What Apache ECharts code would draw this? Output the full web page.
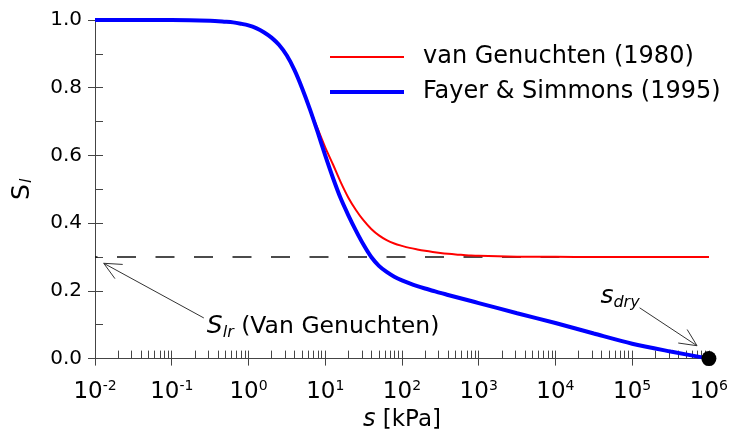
<!DOCTYPE html>
<html>
<head>
<meta charset="utf-8">
<script src="https://cdn.jsdelivr.net/npm/echarts@6/dist/echarts.min.js"></script>
<style>
html,body{margin:0;padding:0;background:#fff}
#chart{width:731px;height:437px}
</style>
</head>
<body>
<div id="chart"></div>
<script>
// suction s [kPa] and degree of saturation
var suction = [0.01, 0.0316, 0.1, 0.316, 0.501, 0.631, 0.794, 1,
    1.259, 1.585, 1.995, 2.512, 3.162, 3.981, 5.012, 6.31, 7.943, 10,
    12.59, 15.85, 19.95, 25.12, 31.62, 39.81, 50.12, 63.1, 79.43, 100,
    125.9, 158.5, 199.5, 251.2, 316.2, 398.1, 501.2, 631, 794.3, 1000,
    3162, 10000, 31623, 100000, 316228, 1000000];
var vanGenuchten = [1.0, 1.0, 1.0, 0.998, 0.995, 0.993, 0.989, 0.984,
    0.976, 0.964, 0.948, 0.926, 0.895, 0.852, 0.798, 0.737, 0.680, 0.624,
    0.574, 0.522, 0.476, 0.439, 0.408, 0.383, 0.364, 0.350, 0.340, 0.333,
    0.327, 0.3225, 0.3185, 0.315, 0.312, 0.3095, 0.3075, 0.306, 0.3045, 0.3035,
    0.301, 0.3005, 0.300, 0.300, 0.300, 0.300];
var fayerSimmons = [1.0, 1.0, 1.0, 0.998, 0.995, 0.993, 0.989, 0.984,
    0.976, 0.964, 0.948, 0.926, 0.895, 0.852, 0.798, 0.737, 0.670, 0.600,
    0.534, 0.474, 0.424, 0.378, 0.336, 0.300, 0.274, 0.256, 0.242, 0.231,
    0.222, 0.214, 0.207, 0.2005, 0.194, 0.188, 0.182, 0.176, 0.170, 0.164,
    0.134, 0.105, 0.074, 0.044, 0.021, 0.0];
var residual = 0.3;
var sDry = [1000000, 0];
var xMin = 0.01, xMax = 1000000;

var font = 'DejaVu Sans';
var axisColor = '#444';

// minor ticks 1..9 x 10^n
var minorTicks = [];
for (var e = -2; e < 6; e++) {
    for (var k = 1; k < 10; k++) minorTicks.push(k * Math.pow(10, e));
}
minorTicks.push(xMax);

function pairs(xs, ys) {
    return xs.map(function (x, i) { return [x, ys[i]]; });
}

var chart = echarts.init(document.getElementById('chart'));

var option = {
    backgroundColor: '#fff',
    animation: false,
    textStyle: {fontFamily: font},
    grid: {left: 95, right: 16, top: 20, bottom: 76, containLabel: false},
    legend: {
        left: 328,
        top: 45,
        padding: 0,
        orient: 'vertical',
        itemWidth: 74,
        itemHeight: 20,
        itemGap: 11,
        itemStyle: {opacity: 0},
        lineStyle: {width: 'inherit'},
        data: ['van Genuchten (1980)', 'Fayer & Simmons (1995)'],
        textStyle: {fontFamily: font, fontSize: 24, color: '#000', padding: [0, 0, 0, 14]}
    },
    xAxis: [{
        type: 'log',
        logBase: 10,
        min: xMin,
        max: xMax,
        interval: 1,
        name: '{i|s} [kPa]',
        nameLocation: 'middle',
        nameGap: 49,
        nameTextStyle: {
            fontFamily: font, fontSize: 23, color: '#000',
            rich: {i: {fontFamily: font, fontSize: 24, fontStyle: 'italic', color: '#000'}}
        },
        axisLine: {lineStyle: {color: axisColor, width: 1}},
        axisTick: {length: 7, lineStyle: {color: axisColor}},
        splitLine: {show: false},
        axisLabel: {
            margin: 21,
            formatter: function (v) {
                var n = Math.round(Math.log(v) / Math.LN10);
                return '{b|10}{sup|' + n + '}';
            },
            rich: {
                b: {fontFamily: font, fontSize: 23, color: '#000'},
                sup: {fontFamily: font, fontSize: 14, color: '#000', padding: [0, 0, 10, 0]}
            }
        }
    }, {
        type: 'log',
        logBase: 10,
        min: xMin,
        max: xMax,
        interval: 1,
        position: 'bottom',
        axisLine: {show: false},
        axisLabel: {show: false},
        splitLine: {show: false},
        axisTick: {inside: true, length: 8, customValues: minorTicks, lineStyle: {color: axisColor}}
    }],
    yAxis: [{
        type: 'value',
        min: 0,
        max: 1,
        interval: 0.2,
        name: '{i|S}{sub|l}',
        nameLocation: 'middle',
        nameGap: 60,
        nameRotate: 90,
        nameTextStyle: {
            rich: {
                i: {fontFamily: font, fontSize: 25, color: '#000'},
                sub: {fontFamily: font, fontSize: 16, fontStyle: 'italic', color: '#000', padding: [10, 0, 0, 1]}
            }
        },
        axisLine: {show: true, lineStyle: {color: axisColor, width: 1}},
        axisTick: {show: true, length: 7, lineStyle: {color: axisColor}},
        splitLine: {show: false},
        axisLabel: {
            margin: 13,
            fontFamily: font, fontSize: 20, color: '#000',
            formatter: function (v) { return v.toFixed(1); }
        }
    }, {
        type: 'value',
        min: 0,
        max: 1,
        interval: 0.1,
        position: 'left',
        axisLine: {show: false},
        axisLabel: {show: false},
        splitLine: {show: false},
        axisTick: {show: true, inside: true, length: 8, lineStyle: {color: axisColor}}
    }],
    series: [{
        name: 'Slr',
        type: 'line',
        data: [[xMin, residual], [xMax, residual]],
        symbol: 'none',
        lineStyle: {color: '#111', width: 1.5, type: [19, 19.5], dashOffset: 16.5},
        silent: true,
        z: 1
    }, {
        name: 'van Genuchten (1980)',
        type: 'line',
        data: pairs(suction, vanGenuchten),
        symbol: 'none',
        smooth: 0.3,
        lineStyle: {color: '#ff0000', width: 2},
        itemStyle: {color: '#ff0000'},
        z: 2
    }, {
        name: 'Fayer & Simmons (1995)',
        type: 'line',
        data: pairs(suction, fayerSimmons),
        symbol: 'none',
        smooth: 0.3,
        lineStyle: {color: '#0000ff', width: 4},
        itemStyle: {color: '#0000ff'},
        z: 3
    }, {
        name: 'sdry',
        type: 'scatter',
        data: [sDry],
        symbolSize: 15,
        clip: false,
        itemStyle: {color: '#000', opacity: 1},
        z: 4
    }]
};

chart.setOption(option);

function px(p) {
    return chart.convertToPixel({seriesIndex: 2}, p);
}

function arrow(tail, tip) {
    var a = px(tail), b = px(tip);
    var ang = Math.atan2(b[1] - a[1], b[0] - a[0]);
    var L = 19, w = 0.44;
    var h1 = [b[0] - L * Math.cos(ang - w), b[1] - L * Math.sin(ang - w)];
    var h2 = [b[0] - L * Math.cos(ang + w), b[1] - L * Math.sin(ang + w)];
    return [
        {type: 'line', shape: {x1: a[0], y1: a[1], x2: b[0], y2: b[1]}, style: {stroke: '#333', lineWidth: 1}, z: 10},
        {type: 'polyline', shape: {points: [h1, b, h2]}, style: {stroke: '#333', lineWidth: 1, fill: null}, z: 10}
    ];
}

// annotation anchors in data space
var slrTail = [0.262, 0.12], slrTip = [0.013, 0.2815];
var dryTail = [125000, 0.15], dryTip = [700000, 0.038];

var t1 = px(slrTail), t2 = px(dryTail);
var elements = arrow(slrTail, slrTip).concat(arrow(dryTail, dryTip));
elements.push({
    type: 'text',
    x: t1[0] + 3,
    y: t1[1] + 9,
    z: 10,
    style: {
        text: '{i|S}{sub|lr}{t| (Van Genuchten)}',
        verticalAlign: 'middle',
        fill: '#000',
        rich: {
            i: {fontFamily: font, fontSize: 25, fontStyle: 'italic', fill: '#000'},
            sub: {fontFamily: font, fontSize: 16, fontStyle: 'italic', fill: '#000', padding: [12, 0, 0, 0]},
            t: {fontFamily: font, fontSize: 23.5, fill: '#000'}
        }
    }
});
elements.push({
    type: 'text',
    x: t2[0],
    y: t2[1] - 11,
    z: 10,
    style: {
        text: '{i|s}{sub|dry}',
        align: 'right',
        verticalAlign: 'middle',
        fill: '#000',
        rich: {
            i: {fontFamily: font, fontSize: 25, fontStyle: 'italic', fill: '#000'},
            sub: {fontFamily: font, fontSize: 16, fontStyle: 'italic', fill: '#000', padding: [12, 0, 0, 0]}
        }
    }
});
chart.setOption({graphic: {elements: elements}});
</script>
</body>
</html>
